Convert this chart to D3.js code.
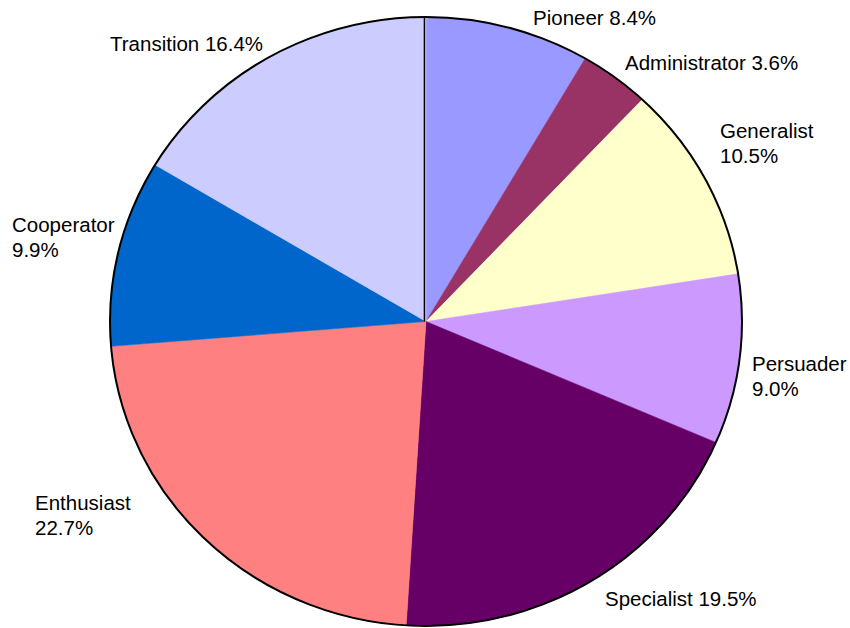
<!DOCTYPE html>
<html>
<head>
<meta charset="utf-8">
<script src="https://cdn.jsdelivr.net/npm/d3@7"></script>
<style>
  html, body { margin: 0; padding: 0; background: #fff; }
  svg { display: block; }
  text { font-family: "Liberation Sans", Arial, sans-serif; font-size: 20.5px; fill: #000; }
</style>
</head>
<body>
<svg id="chart" width="850" height="628"></svg>
<script>
// Team role profile shares (percent), clockwise from 12 o'clock
const categories = ["Pioneer", "Administrator", "Generalist", "Persuader", "Specialist", "Enthusiast", "Cooperator", "Transition"];
const values = [8.4, 3.6, 10.5, 9.0, 19.5, 22.7, 9.9, 16.4];
const colors = ["#9999FF", "#993366", "#FFFFCC", "#CC99FF", "#660066", "#FF8080", "#0066CC", "#CCCCFF"];
// Label placement: [x, first baseline, split onto two lines?]
const labelPos = [
  [533, 25, false],
  [625, 70, false],
  [720, 138, true],
  [752, 371, true],
  [605, 606, false],
  [35, 510, true],
  [12, 232, true],
  [110, 51, false]
];

const svg = d3.select("#chart");
const cx = 426, cy = 321.5, rx = 316, ry = 304.5;

const pie = d3.pie().sort(null).value(d => d.value);
const arcs = pie(categories.map((c, i) => ({ name: c, value: values[i], color: colors[i] })));

const arc = d3.arc().innerRadius(0).outerRadius(ry);

const g = svg.append("g").attr("transform", `translate(${cx},${cy}) scale(${rx / ry},1)`);

g.selectAll("path.slice")
  .data(arcs)
  .join("path")
  .attr("class", "slice")
  .attr("d", arc)
  .attr("fill", d => d.data.color)
  .attr("stroke", d => d.data.color)
  .attr("stroke-width", 0.5)
  .attr("vector-effect", "non-scaling-stroke");

// Outline of the whole pie
g.append("circle")
  .attr("r", ry)
  .attr("fill", "none")
  .attr("stroke", "#000")
  .attr("stroke-width", 2)
  .attr("vector-effect", "non-scaling-stroke");

// Starting radius at 12 o'clock
g.append("line")
  .attr("x1", -1.5).attr("y1", 0)
  .attr("x2", -1.5).attr("y2", -ry)
  .attr("stroke", "#000")
  .attr("stroke-width", 1.5)
  .attr("vector-effect", "non-scaling-stroke");

// Labels
const labels = svg.append("g");
arcs.forEach((d, i) => {
  const [x, y, split] = labelPos[i];
  const pct = d3.format(".1f")(d.data.value) + "%";
  const t = labels.append("text").attr("x", x).attr("y", y);
  if (split) {
    t.append("tspan").attr("x", x).attr("y", y).text(d.data.name);
    t.append("tspan").attr("x", x).attr("y", y + 25).text(pct);
  } else {
    t.text(d.data.name + " " + pct);
  }
});
</script>
</body>
</html>
